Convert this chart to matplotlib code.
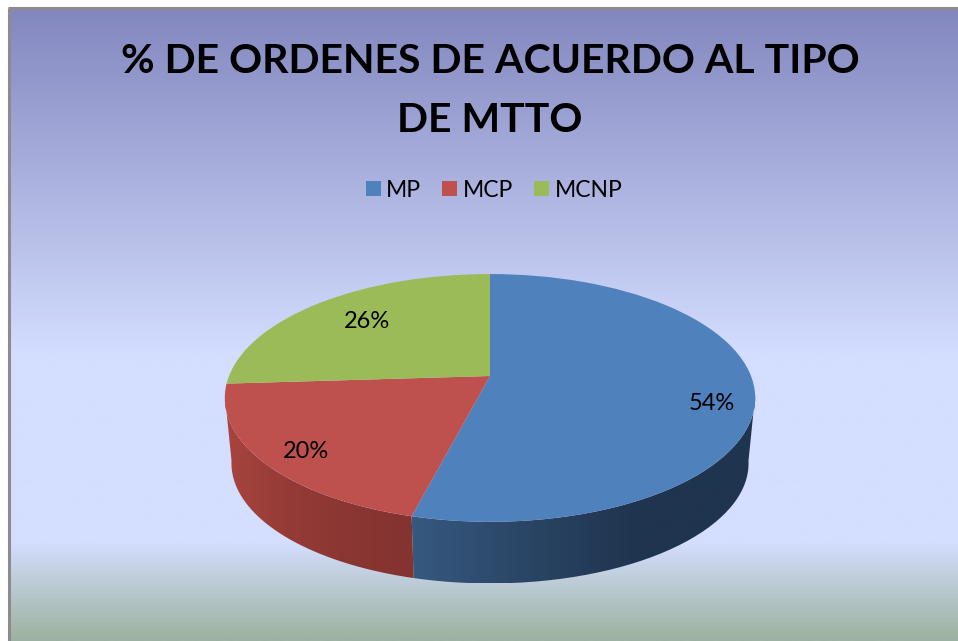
import numpy as np
import matplotlib
matplotlib.use('Agg')
import matplotlib.pyplot as plt
from matplotlib.colors import LinearSegmentedColormap
from matplotlib.patches import PathPatch
from matplotlib.path import Path
from matplotlib.transforms import Transform

# Data
tipos = ['MP', 'MCP', 'MCNP']
porcentajes = [54, 20, 26]
colores = ['#4f81bd', '#be504d', '#9bbb59']
# wall shading, left to right
colores_pared = [['#36597f', '#2a4565', '#1f344e', '#1f344e'],
                 ['#a8443f', '#953b37', '#8a3633', '#843330'],
                 ['#7d9445', '#7d9445', '#7d9445', '#7d9445']]

plt.rcParams['font.family'] = ['Lato', 'DejaVu Sans']

W, H = 958, 641
CX, CY = 490, 376      # pie vertex in pixels
RX = 261               # horizontal radius
A, C = 120, 0.177      # perspective of the tilted disc


class Disco(Transform):
    # unit circle of the pie -> tilted disc, in pixel coordinates
    input_dims = 2
    output_dims = 2

    def transform_non_affine(self, values):
        u, v = values[:, 0], values[:, 1]
        d = 1 + C * v
        return np.column_stack([CX + RX * u / d, CY - A * v / d])


disco = Disco()

fig = plt.figure(figsize=(W / 100, H / 100), dpi=100)
ax = fig.add_axes([0, 0, 1, 1])

wedges, _ = ax.pie(porcentajes, colors=colores, startangle=90, counterclock=False,
                   radius=1, center=(0, 0))
for w in wedges:
    w.set_transform(disco + ax.transData)
    w.set_zorder(3)
    w.set_linewidth(0)

# Background
fondo = LinearSegmentedColormap.from_list('fondo', [(0, '#8387bf'), (0.55, '#d4deff'),
                                                    (0.845, '#d4deff'), (0.99, '#a0b5a5'),
                                                    (1, '#9db2a1')])
ax.imshow(np.linspace(0, 1, 640).reshape(-1, 1), cmap=fondo, extent=[10, W, H, 9],
          aspect='auto', zorder=0, vmin=0, vmax=1)
ax.plot([9, 9], [H, 8], color='#8c8c8c', lw=2.2, zorder=1, solid_capstyle='butt')
ax.plot([8, W], [8, 8], color='#8c8c8c', lw=2.2, zorder=1, solid_capstyle='butt')


# Side wall of each slice, only the part that faces the viewer (189 to 351 deg)
def pared(w, colores_w):
    t1 = w.theta1 % 360
    t2 = t1 + (w.theta2 - w.theta1)
    t1 = max(t1, 189)
    t2 = min(t2, 351)
    if t2 <= t1:
        return
    a = np.radians(np.linspace(t1, t2, 80))
    arriba = disco.transform(np.column_stack([np.cos(a), np.sin(a)]))
    abajo = np.column_stack([CX + (arriba[:, 0] - CX) * 0.975,
                             CY + (arriba[:, 1] - CY) * 0.97 + 66])
    verts = np.vstack([arriba, abajo[::-1], arriba[:1]])
    x0, x1 = verts[:, 0].min(), verts[:, 0].max()
    cmap = LinearSegmentedColormap.from_list('pared', colores_w)
    img = ax.imshow(np.linspace(0, 1, 256).reshape(1, -1), cmap=cmap,
                    extent=[x0, x1, verts[:, 1].max(), verts[:, 1].min()],
                    aspect='auto', zorder=2)
    img.set_clip_path(PathPatch(Path(verts), transform=ax.transData))


for w, c in zip(wedges, colores_pared):
    pared(w, c)

ax.set_xlim(0, W)
ax.set_ylim(H, 0)
ax.set_aspect('auto')
ax.axis('off')

# Percent labels
pos_etiquetas = [(712, 404), (306, 452), (367, 322)]
for p, (x, y) in zip(porcentajes, pos_etiquetas):
    ax.text(x, y, '%d%%' % p, ha='center', va='center', fontsize=17, color='black', zorder=4)

ax.text(490, 73, '% DE ORDENES DE ACUERDO AL TIPO', ha='center', va='baseline',
        fontsize=29.5, fontweight='bold', color='black', zorder=4)
ax.text(490, 132, 'DE MTTO', ha='center', va='baseline',
        fontsize=29.5, fontweight='bold', color='black', zorder=4)

ax.legend(wedges, tipos, loc='center', bbox_to_anchor=(494 / W, 1 - 190 / H), ncols=3,
          frameon=False, fontsize=16.5, handlelength=0.655, handleheight=0.655,
          handletextpad=0.25, columnspacing=0.9, borderpad=0, labelcolor='black')

fig.savefig('out.png', dpi=100, facecolor='white')
